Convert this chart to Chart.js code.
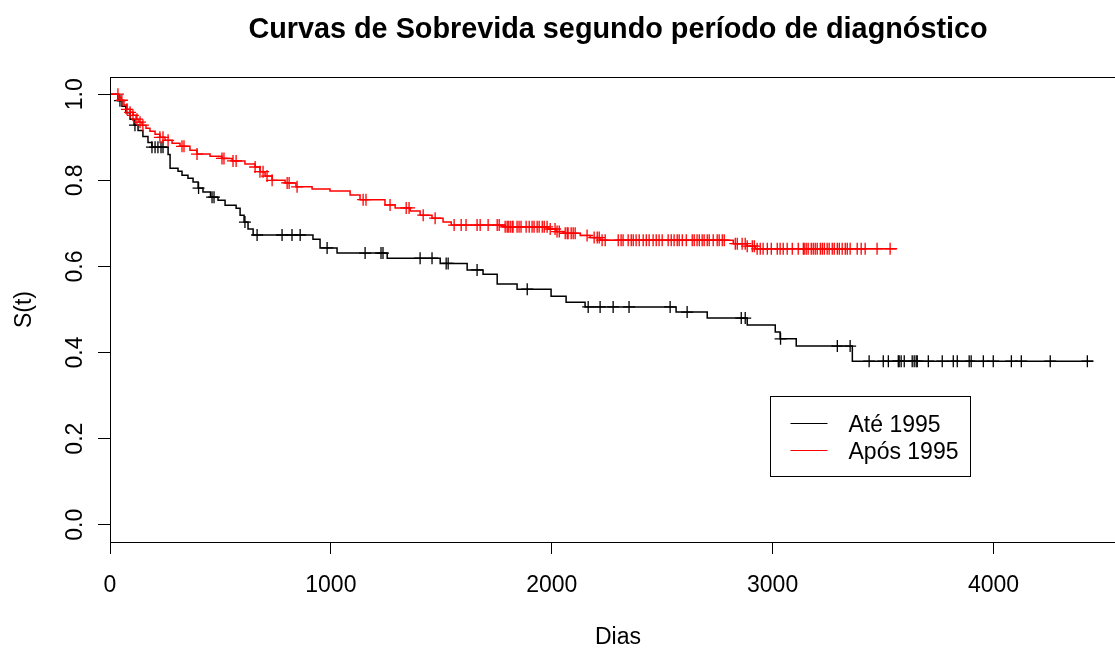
<!DOCTYPE html>
<html>
<head>
<meta charset="utf-8">
<script src="https://cdn.jsdelivr.net/npm/chart.js@4.4.1/dist/chart.umd.min.js"></script>
<style>
  html, body { margin: 0; padding: 0; background: #fff; overflow: hidden; }
  #wrap { width: 1115px; height: 649px; overflow: hidden; }
</style>
</head>
<body>
<div id="wrap"><canvas id="chart" width="1127" height="649"></canvas></div>
<script>
const seriesNames = ["Até 1995", "Após 1995"];
const xTicks = [0, 1000, 2000, 3000, 4000];
const yTicks = [0, 0.2, 0.4, 0.6, 0.8, 1.0];

// Kaplan-Meier steps, diagnosed up to 1995
const ateTimes = [0, 36, 54, 72, 91, 109, 127, 149, 172, 190, 263, 272, 308, 326, 353, 376, 399, 421, 455, 489,
    521, 571, 589, 607, 625, 648, 919, 951, 1028, 1255, 1495, 1617, 1689, 1753, 1843, 1997, 2065, 2151, 2563, 2704,
    2885, 3012, 3034, 3107, 3361];
const ateSurv = [1.0, 0.985, 0.972, 0.957, 0.942, 0.928, 0.916, 0.902, 0.888, 0.877, 0.860, 0.828, 0.821, 0.812, 0.805, 0.796, 0.782, 0.773, 0.761, 0.754,
    0.742, 0.735, 0.719, 0.703, 0.687, 0.673, 0.663, 0.643, 0.631, 0.619, 0.607, 0.592, 0.582, 0.559, 0.547, 0.531, 0.517, 0.506, 0.494, 0.480,
    0.464, 0.448, 0.432, 0.415, 0.380];
const ateEnd = 4452;
const ateCensor = [45, 113, 190, 204, 217, 231, 240, 401, 462, 471, 611, 666, 779, 824, 861, 983, 1155, 1227, 1236, 1404,
    1458, 1522, 1531, 1662, 1889, 2165, 2219, 2278, 2350, 2536, 2613, 2858, 2876, 3036, 3293, 3351, 3437, 3501, 3524, 3569,
    3573, 3582, 3596, 3632, 3641, 3650, 3655, 3705, 3768, 3818, 3836, 3890, 3899, 3954, 3999, 4081, 4126, 4257, 4425];

// diagnosed after 1995
const aposTimes = [0, 41, 50, 63, 77, 91, 104, 118, 131, 145, 163, 181, 204, 226, 249, 281, 317, 362, 394, 453,
    507, 553, 611, 657, 679, 702, 734, 793, 842, 915, 996, 1087, 1132, 1245, 1291, 1359, 1404, 1458, 1508, 1545,
    1789, 1984, 2020, 2052, 2129, 2174, 2219, 2822, 2885, 2921];
const aposSurv = [1.0, 0.993, 0.986, 0.975, 0.965, 0.958, 0.951, 0.942, 0.935, 0.928, 0.921, 0.914, 0.907, 0.900, 0.893, 0.886, 0.879, 0.870, 0.861, 0.856,
    0.851, 0.845, 0.838, 0.831, 0.820, 0.810, 0.800, 0.794, 0.785, 0.780, 0.775, 0.766, 0.755, 0.743, 0.736, 0.729, 0.719, 0.712, 0.703, 0.696,
    0.692, 0.687, 0.681, 0.677, 0.672, 0.667, 0.661, 0.653, 0.647, 0.641];
const aposEnd = 3564;
const aposCensor = [36, 54, 77, 91, 104, 122, 136, 149, 226, 240, 263, 326, 335, 394, 507, 516, 557, 571, 657, 679,
    693, 711, 734, 802, 811, 847, 1146, 1159, 1268, 1341, 1354, 1418, 1472, 1558, 1590, 1612, 1662, 1676, 1712, 1753,
    1762, 1789, 1798, 1803, 1812, 1821, 1825, 1843, 1852, 1861, 1884, 1898, 1911, 1920, 1934, 1943, 1957, 1966, 1979, 1993,
    2015, 2024, 2034, 2061, 2070, 2074, 2088, 2097, 2106, 2160, 2192, 2206, 2215, 2228, 2242, 2301, 2314, 2323, 2346, 2360,
    2369, 2382, 2396, 2414, 2428, 2441, 2459, 2473, 2486, 2500, 2527, 2541, 2554, 2568, 2577, 2591, 2609, 2636, 2645, 2658,
    2668, 2681, 2690, 2704, 2713, 2731, 2749, 2758, 2772, 2781, 2831, 2840, 2862, 2876, 2885, 2908, 2917, 2930, 2944, 2957,
    2976, 2994, 3021, 3034, 3048, 3066, 3089, 3116, 3139, 3143, 3152, 3161, 3175, 3184, 3193, 3202, 3216, 3225, 3234, 3247,
    3256, 3270, 3279, 3293, 3302, 3315, 3329, 3338, 3351, 3383, 3401, 3419, 3473, 3532];

const FONT = "'Liberation Sans', Arial, Helvetica, sans-serif";

function survAt(times, surv, t) {
    let s = surv[0];
    for (let i = 0; i < times.length; i++) {
        if (times[i] <= t) s = surv[i];
    }
    return s;
}

function curve(times, surv, end) {
    let pts = times.map((t, i) => ({ x: t, y: surv[i] }));
    pts.push({ x: end, y: surv[surv.length - 1] });
    return pts;
}

function marks(times, surv, censor) {
    return censor.map(t => ({ x: t, y: survAt(times, surv, t) }));
}

// box, titles and legend in the style of base R graphics
const decor = {
    id: "decor",
    afterDraw(c) {
        let ctx = c.ctx;
        let a = c.chartArea;
        let xs = c.scales.x, ys = c.scales.y;
        ctx.save();
        ctx.strokeStyle = "#000";
        ctx.lineWidth = 1;
        ctx.strokeRect(a.left + 0.5, a.top + 0.5, a.right - a.left, a.bottom - a.top);

        ctx.fillStyle = "#000";
        ctx.textAlign = "center";
        ctx.textBaseline = "middle";
        let cx = (a.left + a.right) / 2;
        ctx.font = "bold 28.8px " + FONT;
        ctx.fillText("Curvas de Sobrevida segundo período de diagnóstico", cx, 30);
        ctx.font = "23px " + FONT;
        ctx.fillText("Dias", cx, 638);
        ctx.save();
        ctx.translate(25, (a.top + a.bottom) / 2);
        ctx.rotate(-Math.PI / 2);
        ctx.fillText("S(t)", 0, 0);
        ctx.restore();

        // legend anchored at (3000, 0.3)
        let lx = Math.floor(xs.getPixelForValue(3000)) - 1.5;
        let ly = Math.round(ys.getPixelForValue(0.3)) + 0.5;
        ctx.strokeRect(lx, ly, 200, 80);
        let colors = ["#000000", "#ff0000"];
        ctx.textAlign = "left";
        seriesNames.forEach((name, i) => {
            let y = ly + 27 + i * 27;
            ctx.strokeStyle = colors[i];
            ctx.beginPath();
            ctx.moveTo(lx + 20, y);
            ctx.lineTo(lx + 57, y);
            ctx.stroke();
            ctx.fillStyle = "#000";
            ctx.fillText(name, lx + 78, y + 2);
        });
        ctx.restore();
    }
};

new Chart(document.getElementById("chart"), {
    type: "scatter",
    data: {
        datasets: [
            { label: seriesNames[1], data: curve(aposTimes, aposSurv, aposEnd), showLine: true, stepped: "before",
              borderColor: "#ff0000", borderWidth: 1.5, pointRadius: 0, fill: false },
            { label: seriesNames[1] + " censura", data: marks(aposTimes, aposSurv, aposCensor), pointStyle: "cross",
              pointRadius: 6, borderColor: "#ff0000", borderWidth: 1.3, showLine: false },
            { label: seriesNames[0], data: curve(ateTimes, ateSurv, ateEnd), showLine: true, stepped: "before",
              borderColor: "#000000", borderWidth: 1.5, pointRadius: 0, fill: false },
            { label: seriesNames[0] + " censura", data: marks(ateTimes, ateSurv, ateCensor), pointStyle: "cross",
              pointRadius: 6, borderColor: "#000000", borderWidth: 1.3, showLine: false }
        ]
    },
    options: {
        responsive: false,
        animation: false,
        devicePixelRatio: 1,
        layout: { autoPadding: false, padding: { left: 0, right: 1, top: 77, bottom: 0 } },
        plugins: { legend: { display: false }, tooltip: { enabled: false } },
        scales: {
            x: {
                type: "linear", min: 0, max: 4600,
                afterBuildTicks: s => { s.ticks = xTicks.map(v => ({ value: v })); },
                afterFit: s => { s.height = 107; s.paddingLeft = 0; s.paddingRight = 0; },
                grid: { drawOnChartArea: false, tickLength: 12, color: "#000", lineWidth: 1 },
                border: { display: false },
                ticks: { color: "#000", font: { family: FONT, size: 23 }, padding: 18, maxRotation: 0,
                         callback: v => String(v) }
            },
            y: {
                type: "linear", min: -0.04, max: 1.04,
                afterBuildTicks: s => { s.ticks = yTicks.map(v => ({ value: v })); },
                afterFit: s => { s.width = 110; s.paddingTop = 0; s.paddingBottom = 0; },
                grid: { drawOnChartArea: false, tickLength: 12, color: "#000", lineWidth: 1 },
                border: { display: false },
                ticks: { color: "#000", font: { family: FONT, size: 23 }, padding: 6, minRotation: 90, maxRotation: 90,
                         crossAlign: "center", callback: v => v.toFixed(1) }
            }
        }
    },
    plugins: [decor]
});
</script>
</body>
</html>
